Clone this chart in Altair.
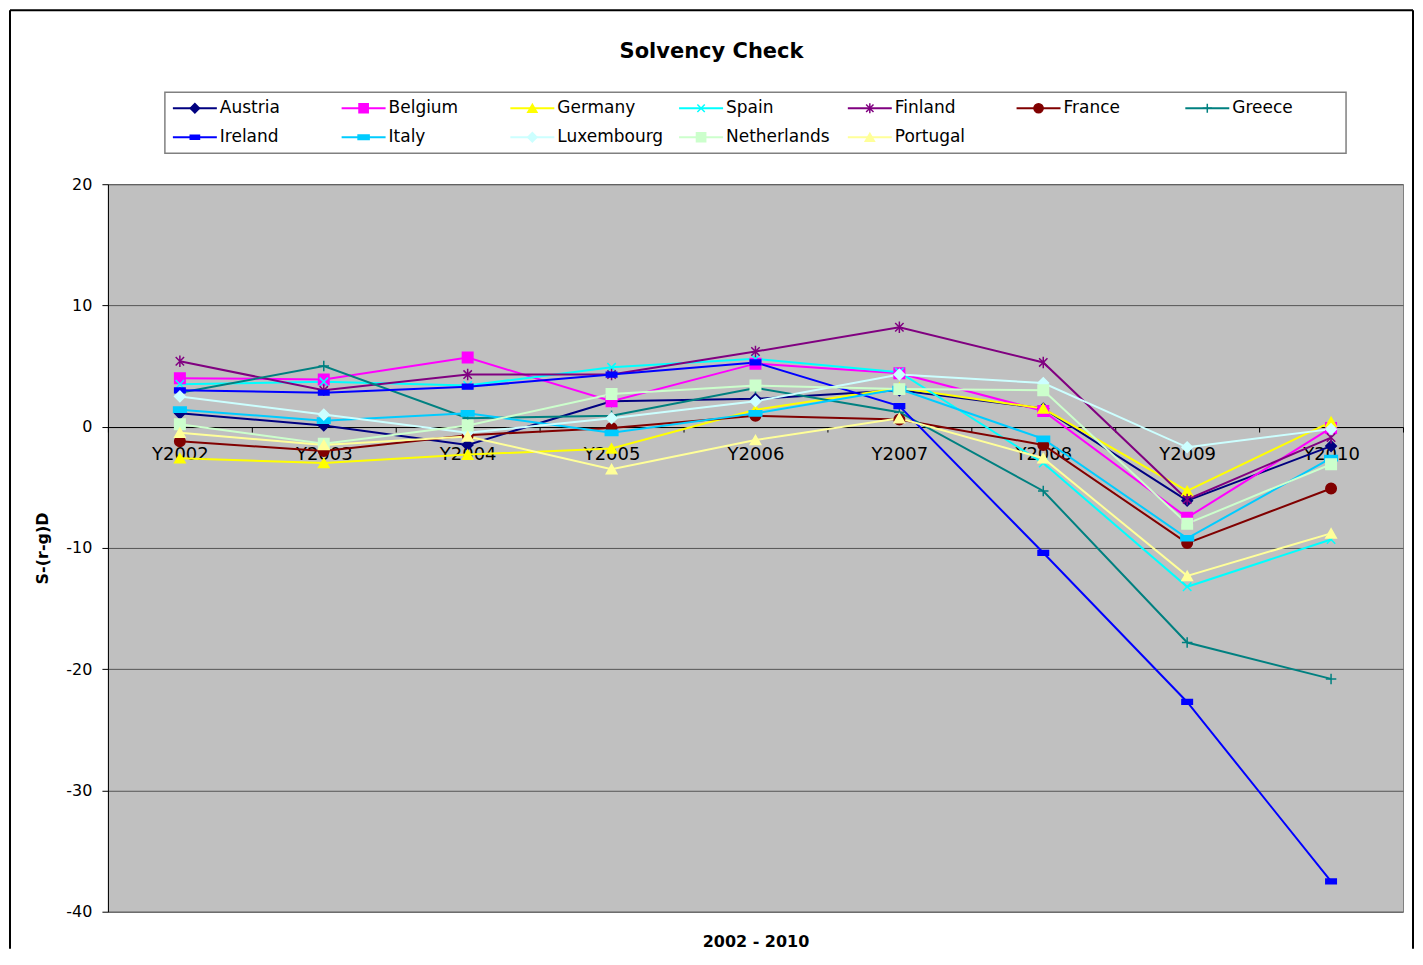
import altair as alt
import pandas as pd

years = ["Y2002", "Y2003", "Y2004", "Y2005", "Y2006", "Y2007", "Y2008", "Y2009", "Y2010"]
countries = ["Austria", "Belgium", "Germany", "Spain", "Finland", "France", "Greece",
             "Ireland", "Italy", "Luxembourg", "Netherlands", "Portugal"]
colors = ["#000080", "#FF00FF", "#FFFF00", "#00FFFF", "#800080", "#800000", "#008080",
          "#0000FF", "#00CCFF", "#CCFFFF", "#CCFFCC", "#FFFF99"]
shapes = ["diamond", "square", "triangle-up",
          "M-0.8,-0.8L0.8,0.8M-0.8,0.8L0.8,-0.8",
          "M-0.8,-0.8L0.8,0.8M-0.8,0.8L0.8,-0.8M0,-1.1L0,1.1",
          "circle",
          "M-1,0L1,0M0,-1L0,1",
          "M-1,-0.45H1V0.45H-1Z",
          "M-1.2,-0.5H1.2V0.5H-1.2Z",
          "diamond", "square", "triangle-up"]

austria = [1.1, 0.1, -1.5, 2.1, 2.3, 3.0, 1.5, -6.1, -1.6]
belgium = [4.0, 3.9, 5.7, 2.1, 5.2, 4.4, 1.3, -7.5, -0.1]
germany = [-2.6, -3.0, -2.3, -1.8, 1.4, 3.2, 1.5, -5.3, 0.4]
spain = [3.5, 3.7, 3.4, 4.9, 5.6, 4.5, -3.0, -13.2, -9.3]
finland = [5.4, 3.0, 4.3, 4.3, 6.2, 8.2, 5.3, -6.0, -0.9]
france = [-1.2, -2.0, -0.7, -0.1, 0.9, 0.6, -1.5, -9.6, -5.1]
greece = [2.8, 5.0, 0.7, 0.9, 3.2, 1.2, -5.3, -17.8, -20.8]
ireland = [3.0, 2.8, 3.3, 4.3, 5.3, 1.7, -10.4, -22.7, -37.5]
italy = [1.4, 0.5, 1.1, -0.5, 1.1, 3.1, -1.0, -9.2, -2.6]
luxembourg = [2.5, 1.0, -0.5, 0.7, 2.1, 4.3, 3.6, -1.7, -0.2]
netherlands = [0.2, -1.4, 0.1, 2.7, 3.4, 3.1, 3.0, -8.0, -3.1]
portugal = [-0.5, -1.5, -0.8, -3.5, -1.1, 0.7, -2.6, -12.3, -8.8]

series = [austria, belgium, germany, spain, finland, france, greece,
          ireland, italy, luxembourg, netherlands, portugal]

rows = []
for c, vals in zip(countries, series):
    for yr, v in zip(years, vals):
        rows.append({"country": c, "year": yr, "value": v})
df = pd.DataFrame(rows)
leg = pd.DataFrame({"country": countries, "idx": list(range(len(countries)))})

FONT = "DejaVu Sans"
color_scale = alt.Scale(domain=countries, range=colors)
shape_scale = alt.Scale(domain=countries, range=shapes)

x = alt.X("year:N", sort=years,
          scale=alt.Scale(type="band", paddingInner=0, paddingOuter=0),
          axis=alt.Axis(title="2002 - 2010", offset=-485, domainColor="black", domainWidth=1,
                        tickColor="black", tickSize=5, tickBand="extent",
                        labelFont=FONT, labelFontSize=18, labelColor="black",
                        labelPadding=13, labelAngle=0,
                        titleFont=FONT, titleFontSize=16, titleFontWeight="bold",
                        titleColor="black", titleY=515, titleBaseline="middle", zindex=0))
y = alt.Y("value:Q", scale=alt.Scale(domain=[-40, 20], nice=False, zero=False),
          axis=alt.Axis(title="S-(r-g)D", values=[-40, -30, -20, -10, 0, 10, 20],
                        labelExpr="'' + datum.value",
                        grid=True, gridColor="#555555", gridWidth=1,
                        domainColor="black", tickColor="black", tickSize=6,
                        labelFont=FONT, labelFontSize=16, labelColor="black", labelPadding=10,
                        titleFont=FONT, titleFontSize=16, titleFontWeight="bold",
                        titleColor="black", titleX=-65, titleBaseline="middle", zindex=0))

lines = alt.Chart(df).mark_line(strokeWidth=2).encode(
    x=x, y=y,
    color=alt.Color("country:N", scale=color_scale, legend=None),
)
points = alt.Chart(df).mark_point(filled=True, size=110, strokeWidth=1.5, opacity=1).encode(
    x=x, y=y,
    shape=alt.Shape("country:N", scale=shape_scale, legend=None),
    fill=alt.Fill("country:N", scale=color_scale, legend=None),
    stroke=alt.Stroke("country:N", scale=color_scale, legend=None),
)

one = pd.DataFrame({"k": [0]})
frame_left = alt.Chart(one).mark_rule(color="black", strokeWidth=2).encode(
    x=alt.value(-98), y=alt.value(-174), y2=alt.value(765))
frame_top = alt.Chart(one).mark_rule(color="black", strokeWidth=2).encode(
    x=alt.value(-98), x2=alt.value(1306), y=alt.value(-174))
frame_right = alt.Chart(one).mark_rule(color="black", strokeWidth=2).encode(
    x=alt.value(1306), y=alt.value(-174), y2=alt.value(765))

main = alt.layer(lines, points, frame_left, frame_top, frame_right).properties(
    width=1296, height=728,
    view=alt.ViewBackground(fill="#C0C0C0", stroke="#808080", strokeWidth=1),
)

leg_base = alt.Chart(leg).transform_calculate(
    col="datum.idx % 7", row="floor(datum.idx / 7)")
lx = alt.X("col:Q", scale=alt.Scale(domain=[0, 7], nice=False, zero=False), axis=None)
ly = alt.Y("row:Q", scale=alt.Scale(domain=[-0.55, 1.55], nice=False, zero=False, reverse=True),
           axis=None)

leg_rule = leg_base.mark_rule(strokeWidth=2, xOffset=8, x2Offset=52).encode(
    x=lx, x2="col:Q", y=ly,
    color=alt.Color("country:N", scale=color_scale, legend=None))
leg_pts = leg_base.mark_point(filled=True, size=85, strokeWidth=1.5, opacity=1, xOffset=30).encode(
    x=lx, y=ly,
    shape=alt.Shape("country:N", scale=shape_scale, legend=None),
    fill=alt.Fill("country:N", scale=color_scale, legend=None),
    stroke=alt.Stroke("country:N", scale=color_scale, legend=None))
leg_txt = leg_base.mark_text(align="left", baseline="middle", dx=55, font=FONT,
                             fontSize=17, color="black").encode(
    x=lx, y=ly, text="country:N")

legend = alt.layer(leg_rule, leg_pts, leg_txt).properties(
    width=1182, height=61,
    view=alt.ViewBackground(fill="white", stroke="#808080", strokeWidth=1.5),
    title=alt.TitleParams("Solvency Check", font=FONT, fontSize=21, fontWeight="bold",
                          dx=-44, offset=30, anchor="middle", color="black"),
)

chart = alt.vconcat(legend, main, spacing=31, center=True, bounds="flush").properties(
    padding=0
).configure(background="white")

chart.save("out.html", embed_options={"renderer": "svg", "actions": False})
